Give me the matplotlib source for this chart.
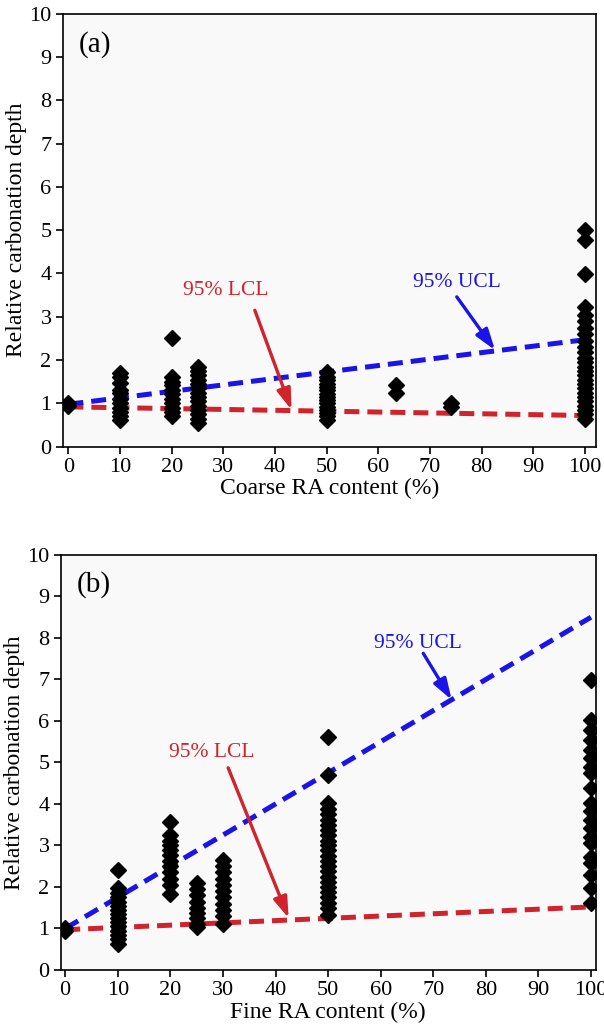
import matplotlib
matplotlib.use("Agg")
import matplotlib.pyplot as plt
import numpy as np

plt.rcParams.update({
    "font.family": ["Liberation Serif", "DejaVu Serif"],
    "font.size": 14,
    "axes.linewidth": 1.2,
})

# ----- data: (a) coarse RA -------------------------------------------------
coarse_x = {
    0: [1.0, 0.95],
    10: [1.70, 1.60, 1.46, 1.32, 1.23, 1.10, 1.0, 0.90, 0.81, 0.70, 0.62],
    20: [2.50, 1.60, 1.50, 1.42, 1.32, 1.22, 1.10, 1.0, 0.90, 0.80, 0.72],
    25: [1.85, 1.75, 1.65, 1.55, 1.45, 1.35, 1.25, 1.15, 1.05, 0.95,
         0.85, 0.75, 0.65, 0.55],
    50: [1.72, 1.62, 1.55, 1.45, 1.38, 1.30, 1.22, 1.15, 1.08, 1.0,
         0.92, 0.85, 0.78, 0.70, 0.62],
    63.5: [1.42, 1.25],
    74: [1.0, 0.92],
    100: [5.0, 4.77, 3.98, 3.22, 3.05, 2.90, 2.75, 2.60, 2.45, 2.30,
          2.18, 2.05, 1.95, 1.85, 1.75, 1.65, 1.55, 1.45, 1.35, 1.25,
          1.15, 1.05, 0.95, 0.85, 0.75, 0.65],
}
coarse_ucl = ([0, 100], [0.98, 2.47])
coarse_lcl = ([0, 100], [0.92, 0.72])

# ----- data: (b) fine RA ---------------------------------------------------
fine_x = {
    0: [1.0, 0.95],
    10: [2.41, 1.97, 1.85, 1.75, 1.65, 1.55, 1.45, 1.35, 1.25, 1.15,
         1.05, 0.95, 0.85, 0.75, 0.62],
    20: [3.57, 3.25, 3.12, 3.0, 2.90, 2.78, 2.62, 2.50, 2.35, 2.20,
         2.05, 1.82],
    25: [2.09, 1.95, 1.80, 1.65, 1.50, 1.38, 1.25, 1.12, 1.04],
    30: [2.65, 2.50, 2.35, 2.20, 2.05, 1.90, 1.75, 1.60, 1.45, 1.30,
         1.12],
    50: [5.62, 4.70, 4.02, 3.88, 3.75, 3.62, 3.50, 3.38, 3.25, 3.12,
         3.0, 2.88, 2.75, 2.62, 2.50, 2.38, 2.25, 2.12, 2.0, 1.88,
         1.75, 1.62, 1.50, 1.33],
    100: [6.99, 6.02, 5.78, 5.54, 5.30, 5.10, 4.90, 4.74, 4.38, 4.02,
          3.82, 3.61, 3.41, 3.21, 3.05, 2.73, 2.57, 2.29, 1.97, 1.61],
}
fine_ucl = ([0, 100], [1.0, 8.5])
fine_lcl = ([0, 100], [0.97, 1.52])

BLUE = "#1a14e8"
RED = "#d0232b"

fig = plt.figure(figsize=(6.04, 10.34), dpi=100)
ax_a = fig.add_axes([0.1038, 0.568, 0.8825, 0.4188])
ax_b = fig.add_axes([0.1005, 0.0619, 0.8858, 0.4014])


def draw_panel(ax, data, ucl, lcl, xlim, tag, xlabel, lcl_ann, ucl_ann):
    ax.set_facecolor("#f9f9f9")
    ax.plot(*lcl, ls=(0, (3, 1.6)), lw=3.6, color=RED, zorder=2)
    ax.plot(*ucl, ls=(0, (3, 1.6)), lw=3.6, color=BLUE, zorder=2)
    for xv, ys in data.items():
        ax.plot([xv] * len(ys), ys, "D", ms=8, color="black",
                mec="black", zorder=3)
    ax.set_xlim(*xlim)
    ax.set_ylim(0, 10)
    ax.set_xticks(np.arange(0, 101, 10))
    ax.set_yticks(np.arange(0, 11, 1))
    ax.tick_params(direction="out", length=5, width=1.2, labelsize=16,
                   top=False, right=False, pad=3)
    ax.set_xlabel(xlabel, fontsize=17, labelpad=1)
    ax.set_ylabel("Relative carbonation depth", fontsize=17, labelpad=2)
    ax.text(0.03, 0.96, tag, transform=ax.transAxes, fontsize=21,
            va="top", ha="left")
    (tx, ty), (sx, sy), (ex, ey) = lcl_ann
    ax.text(tx, ty, "95% LCL", color=RED, fontsize=15.5, ha="center",
            va="center")
    ax.annotate("", xy=(ex, ey), xytext=(sx, sy),
                arrowprops=dict(arrowstyle="-|>,head_length=0.9,head_width=0.3",
                                color=RED, lw=2.4, shrinkA=0, shrinkB=0),
                zorder=4)
    (tx, ty), (sx, sy), (ex, ey) = ucl_ann
    ax.text(tx, ty, "95% UCL", color=BLUE, fontsize=15.5, ha="center",
            va="center")
    ax.annotate("", xy=(ex, ey), xytext=(sx, sy),
                arrowprops=dict(arrowstyle="-|>,head_length=0.9,head_width=0.3",
                                color=BLUE, lw=2.4, shrinkA=0, shrinkB=0),
                zorder=4)


draw_panel(ax_a, coarse_x, coarse_ucl, coarse_lcl, (-1.1, 102.1), "(a)",
           "Coarse RA content (%)",
           ((30.5, 3.6), (36.1, 3.15), (43.2, 0.85)),
           ((75.2, 3.8), (75.2, 3.46), (82.6, 2.23)))
draw_panel(ax_b, fine_x, fine_ucl, fine_lcl, (-0.85, 100.9), "(b)",
           "Fine RA content (%)",
           ((27.9, 5.23), (31.0, 4.87), (42.5, 1.25)),
           ((67.0, 7.87), (68.1, 7.63), (73.5, 6.51)))

fig.savefig("out.png", dpi=100)
